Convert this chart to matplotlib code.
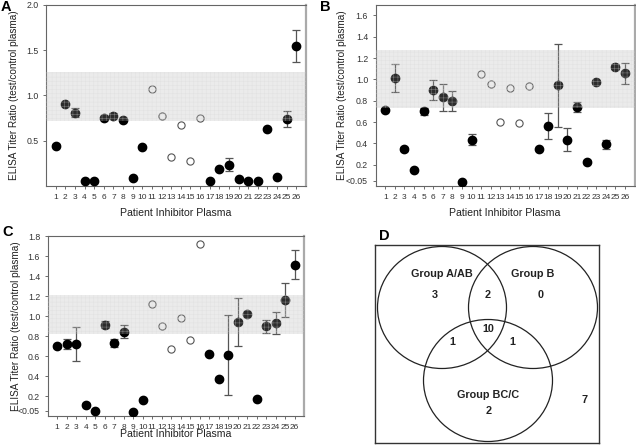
import numpy as np
import matplotlib
matplotlib.use("Agg")
import matplotlib.pyplot as plt
from matplotlib.patches import Ellipse

plt.rcParams['font.family'] = ['Liberation Sans', 'DejaVu Sans']
plt.rcParams['hatch.linewidth'] = 0.4

patients = list(range(1, 27))
open_ids = [11, 12, 13, 14, 15, 16]

a_vals = [0.445, 0.91, 0.81, 0.06, 0.06, 0.745, 0.775, 0.73, 0.09, 0.43,
          1.066, 0.77, 0.32, 0.67, 0.28, 0.75,
          0.06, 0.19, 0.235, 0.08, 0.05, 0.055, 0.63, 0.10, 0.74, 1.544]
a_err = [0.02, 0.01, 0.05, 0.005, 0.005, 0.01, 0.03, 0.01, 0.005, 0.01,
         0, 0, 0, 0, 0, 0,
         0.005, 0.01, 0.07, 0.01, 0.005, 0.005, 0.01, 0.01, 0.085, 0.18]

b_vals = [0.71, 1.01, 0.345, 0.153, 0.70, 0.90, 0.83, 0.80, 0.04, 0.435,
          1.046, 0.957, 0.60, 0.92, 0.595, 0.935,
          0.345, 0.564, 0.945, 0.435, 0.74, 0.227, 0.975, 0.39, 1.12, 1.055]
b_err = [0.01, 0.13, 0.02, 0.01, 0.03, 0.09, 0.13, 0.095, 0.005, 0.055,
         0, 0, 0, 0, 0, 0,
         0.01, 0.12, 0.39, 0.105, 0.045, 0.015, 0.01, 0.04, 0.025, 0.10]

c_vals = [0.70, 0.725, 0.722, 0.115, 0.048, 0.912, 0.733, 0.845, 0.04, 0.165,
          1.124, 0.90, 0.674, 0.98, 0.757, 1.724,
          0.624, 0.374, 0.607, 0.94, 1.017, 0.167, 0.897, 0.93, 1.157, 1.514]
c_err = [0.015, 0.05, 0.17, 0.015, 0.005, 0.035, 0.04, 0.065, 0.005, 0.01,
         0, 0, 0, 0, 0, 0,
         0.01, 0.015, 0.40, 0.24, 0.01, 0.01, 0.062, 0.11, 0.17, 0.145]

a_band = (0.72, 1.26)
b_band = (0.734, 1.275)
c_band = (0.817, 1.214)

a_yticks = [0.5, 1.0, 1.5, 2.0]
a_ylabels = ['0.5', '1.0', '1.5', '2.0']
b_yticks = [0.05, 0.2, 0.4, 0.6, 0.8, 1.0, 1.2, 1.4, 1.6]
b_ylabels = ['<0.05', '0.2', '0.4', '0.6', '0.8', '1.0', '1.2', '1.4', '1.6']
c_yticks = [0.05, 0.2, 0.4, 0.6, 0.8, 1.0, 1.2, 1.4, 1.6, 1.8]
c_ylabels = ['<0.05', '0.2', '0.4', '0.6', '0.8', '1.0', '1.2', '1.4', '1.6', '1.8']

venn_groups = ['Group A/AB', 'Group B', 'Group BC/C']
venn_counts = {'A': 3, 'B': 0, 'C': 2, 'AB': 2, 'AC': 1, 'BC': 1, 'ABC': 10, 'none': 7}

W, H = 636, 446
fig = plt.figure(figsize=(W / 100, H / 100), dpi=100)


def px_axes(l, r, t, b):
    return fig.add_axes([l / W, (H - b) / H, (r - l) / W, (b - t) / H])


def panel(ax, vals, errs, band, ylim, yticks, ylabels, letter, letter_xy, ylab_x, xpad):
    x = np.array(patients)
    v = np.array(vals)
    e = np.array(errs)
    is_open = np.isin(x, open_ids)
    filled = ~is_open
    ax.errorbar(x[filled], v[filled], yerr=e[filled], fmt='none', ecolor='#555555',
                elinewidth=0.9, capsize=3.2, capthick=0.9, zorder=2)
    ax.plot(x[filled], v[filled], 'o', color='black', markersize=6, zorder=3)
    ax.plot(x[is_open], v[is_open], 'o', markerfacecolor='white', markeredgecolor='#555555',
            markeredgewidth=0.8, markersize=5.2, zorder=3)
    ax.axhspan(band[0], band[1], facecolor='#b0b0b0', alpha=0.25, lw=0, zorder=4)
    ax.axhspan(band[0], band[1], facecolor='none', edgecolor='#d8d8d8', hatch='++++',
               lw=0, zorder=4, alpha=0.45)
    ax.set_xlim(0, 27)
    ax.set_ylim(*ylim)
    ax.set_xticks(patients)
    ax.set_xticklabels([str(p) for p in patients], fontsize=6.0, color='#333333')
    ax.set_yticks(yticks)
    ax.set_yticklabels(ylabels, fontsize=6.3, color='#333333')
    ax.tick_params(axis='both', length=2.5, width=0.6, color='#555555', pad=3)
    for s in ax.spines.values():
        s.set_color('#666666')
        s.set_linewidth(0.8)
    ax.spines['right'].set_color('#aaaaaa')
    ax.spines['right'].set_linewidth(1.6)
    ax.set_xlabel('Patient Inhibitor Plasma', fontsize=7.6, color='#222222', labelpad=xpad)
    ax.set_ylabel('ELISA Titer Ratio (test/control plasma)', fontsize=7.2, color='#222222')
    ax.yaxis.set_label_coords(ylab_x, 0.5)
    fig.text(letter_xy[0] / W, 1 - letter_xy[1] / H, letter, fontsize=10.5,
             fontweight='bold', ha='left', va='center')


axA = px_axes(46, 306, 4.7, 186)
panel(axA, a_vals, a_err, a_band, (0, 2.0), a_yticks, a_ylabels, 'A', (1, 7), -0.105, 5)

axB = px_axes(375.7, 634.5, 4.7, 186)
panel(axB, b_vals, b_err, b_band, (0, 1.7), b_yticks, b_ylabels, 'B', (320, 7), -0.11, 5)

axC = px_axes(47.7, 304, 236, 416)
panel(axC, c_vals, c_err, c_band, (0, 1.8), c_yticks, c_ylabels, 'C', (2, 232), -0.105, -1)

# Venn diagram panel D
axD = px_axes(374.7, 598.7, 245.3, 442.7)
axD.set_xlim(374.7, 598.7)
axD.set_ylim(442.7, 245.3)
axD.set_xticks([])
axD.set_yticks([])
for s in axD.spines.values():
    s.set_color('#333333')
    s.set_linewidth(1.0)
circles = [(442, 307.5), (533, 307.5), (488, 380.5)]
for cx, cy in circles:
    axD.add_patch(Ellipse((cx, cy), 129, 122, facecolor='none', edgecolor='#222222', lw=0.9))

tkw = dict(fontsize=7.8, fontweight='bold', ha='center', va='center', color='#222222')
axD.text(442, 274.3, venn_groups[0], **tkw)
axD.text(533, 274.3, venn_groups[1], **tkw)
axD.text(488.3, 395, venn_groups[2], **tkw)
axD.text(434.3, 295.3, str(venn_counts['A']), **tkw)
axD.text(541, 295.3, str(venn_counts['B']), **tkw)
axD.text(488.7, 411, str(venn_counts['C']), **tkw)
axD.text(487.3, 295.3, str(venn_counts['AB']), **tkw)
axD.text(452.7, 341.7, str(venn_counts['AC']), **tkw)
axD.text(512.7, 341.7, str(venn_counts['BC']), **tkw)
axD.text(488.3, 329.3, str(venn_counts['ABC']), **tkw)
axD.text(584.3, 400, str(venn_counts['none']), **tkw)
fig.text(379 / W, 1 - 236 / H, 'D', fontsize=10.5, fontweight='bold', ha='left', va='center')

fig.savefig('out.png', dpi=100)
